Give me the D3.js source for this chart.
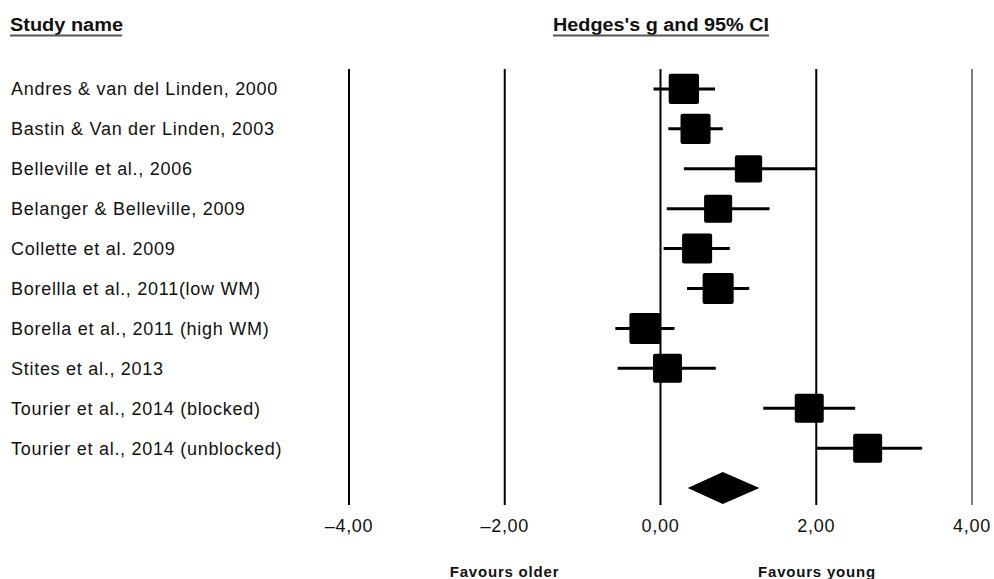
<!DOCTYPE html>
<html><head><meta charset="utf-8">
<script src="https://cdn.jsdelivr.net/npm/d3@7/dist/d3.min.js"></script>
<style>body{margin:0;background:#fff}svg{display:block}</style>
</head><body><svg id="c" width="994" height="579"></svg>
<script>
const studies = ["Andres & van del Linden, 2000","Bastin & Van der Linden, 2003","Belleville et al., 2006","Belanger & Belleville, 2009","Collette et al. 2009","Borellla et al., 2011(low WM)","Borella et al., 2011 (high WM)","Stites et al., 2013","Tourier et al., 2014 (blocked)","Tourier et al., 2014 (unblocked)"];
const g     = [0.30, 0.45, 1.13, 0.74, 0.47, 0.74, -0.20, 0.09, 1.91, 2.66];
const lower = [-0.09, 0.10, 0.30, 0.08, 0.04, 0.34, -0.58, -0.55, 1.32, 2.00];
const upper = [0.70, 0.80, 2.00, 1.40, 0.89, 1.14, 0.18, 0.71, 2.50, 3.36];
const weight= [10.5, 10.3, 8.5, 9.0, 10.3, 11.0, 11.0, 9.6, 9.6, 9.6];
const summary = {g:0.80, lower:0.35, upper:1.27};
const ticks = [-4, -2, 0, 2, 4];
const tickLabels = ["\u20134,00","\u20132,00","0,00","2,00","4,00"];

const svg = d3.select("#c");
const x = d3.scaleLinear().domain([-4,4]).range([349,972]);
const y = d3.scaleBand().domain(d3.range(studies.length+1)).range([69,508]).paddingInner(0);
const yc = i => y(i) + y.bandwidth()/2;
const side = d3.scaleSqrt().domain([0,10]).range([0,29.6]);
const font = "'Liberation Sans', Arial, sans-serif";

// vertical lines
svg.append("g").selectAll("line").data(ticks).join("line")
  .attr("x1",d=>x(d)).attr("x2",d=>x(d)).attr("y1",69).attr("y2",505)
  .attr("stroke",d=>d===4?"#555":"#000").attr("stroke-width",d=>d===4?1.5:2);

// headers
svg.append("text").attr("x",10).attr("y",31).text("Study name")
  .attr("font-family",font).attr("font-weight","bold").attr("font-size",18).attr("fill","#111")
  .attr("textLength",113).attr("lengthAdjust","spacingAndGlyphs");
svg.append("line").attr("x1",10).attr("x2",122).attr("y1",35.5).attr("y2",35.5).attr("stroke","#555").attr("stroke-width",2);
svg.append("text").attr("x",553).attr("y",31).text("Hedges's g and 95% CI")
  .attr("font-family",font).attr("font-weight","bold").attr("font-size",18).attr("fill","#111")
  .attr("textLength",216).attr("lengthAdjust","spacingAndGlyphs");
svg.append("line").attr("x1",553).attr("x2",769).attr("y1",35.5).attr("y2",35.5).attr("stroke","#555").attr("stroke-width",2);

// study labels
svg.append("g").selectAll("text").data(studies).join("text")
  .attr("x",11).attr("y",(d,i)=>yc(i)+6.5).text(d=>d)
  .attr("font-family",font).attr("font-size",18).attr("letter-spacing",0.72).attr("fill","#111");

// CI lines
svg.append("g").selectAll("line").data(studies).join("line")
  .attr("x1",(d,i)=>x(lower[i])).attr("x2",(d,i)=>x(upper[i]))
  .attr("y1",(d,i)=>yc(i)).attr("y2",(d,i)=>yc(i))
  .attr("stroke","#000").attr("stroke-width",3);

// squares
svg.append("g").selectAll("rect").data(studies).join("rect")
  .attr("x",(d,i)=>x(g[i])-side(weight[i])/2).attr("y",(d,i)=>yc(i)-side(weight[i])/2)
  .attr("width",(d,i)=>side(weight[i])).attr("height",(d,i)=>side(weight[i]))
  .attr("rx",2).attr("fill","#000");

// diamond
const dy = yc(studies.length);
svg.append("path").attr("d",`M${x(summary.lower)},${dy}L${x(summary.g)},${dy-16}L${x(summary.upper)},${dy}L${x(summary.g)},${dy+16}Z`).attr("fill","#000");

// tick labels
svg.append("g").selectAll("text").data(ticks).join("text")
  .attr("x",d=>x(d)).attr("y",532).attr("text-anchor","middle").text((d,i)=>tickLabels[i])
  .attr("font-family",font).attr("font-size",18).attr("letter-spacing",0.7).attr("fill","#111");

// favours
svg.append("text").attr("x",504.5).attr("y",577).attr("text-anchor","middle").text("Favours older")
  .attr("font-family",font).attr("font-weight","bold").attr("font-size",15).attr("letter-spacing",0.8).attr("fill","#111");
svg.append("text").attr("x",817).attr("y",577).attr("text-anchor","middle").text("Favours young")
  .attr("font-family",font).attr("font-weight","bold").attr("font-size",15).attr("letter-spacing",0.8).attr("fill","#111");
</script></body></html>
